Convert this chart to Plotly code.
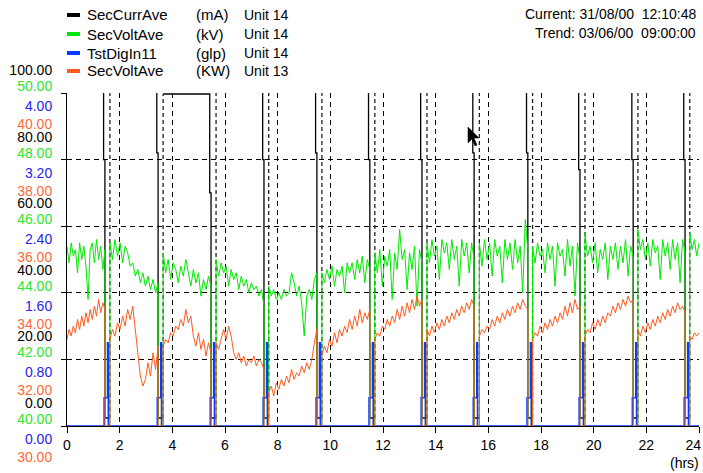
import numpy as np
import plotly.graph_objects as go

FONT = "Liberation Sans, Arial, sans-serif"

# ---------------- data ----------------
hour_ticks = [0, 2, 4, 6, 8, 10, 12, 14, 16, 18, 20, 22, 24]
hour_labels = [str(h) for h in hour_ticks]

# rapping cycles (hrs): drop time and recovery time
cycle_on = [1.44, 3.46, 5.47, 7.48, 9.49, 11.50, 13.48, 15.46, 17.50, 19.48, 21.50, 23.47]
cycle_off = [1.63, 3.65, 5.66, 7.66, 9.68, 11.69, 13.67, 15.66, 17.68, 19.67, 21.68, 23.65]

# SecCurrAve (mA), Unit 14 : level between cycles (>100 = off scale), pre-drop step, low level
curr_level = [130, 130, 99.7, 130, 130, 130, 130, 130, 130, 130, 130, 130, 130]
curr_pre = [80, 82, 70, 80, 82, 80, 80, 82, 82, 77, 80, 80]
curr_low = 2.4

# SecVoltAve (kV), Unit 14 : samples between cycles
kv_periods = [
    [45.4, 44.9, 45.5, 45.1, 45.3, 44.6, 45.5, 45.0, 45.4, 44.8, 43.8, 45.3, 45.5, 44.9, 45.6, 45.0, 45.4, 44.7, 45.3],
    [45.5, 45.0, 45.6, 45.1, 45.5, 44.9, 45.4, 45.2, 44.8, 44.9, 44.5, 44.7, 44.3, 44.6, 44.2, 44.5, 44.1, 44.4, 44.0, 44.3],
    [45.2, 44.6, 45.0, 44.4, 44.9, 44.7, 44.3, 44.8, 44.5, 45.0, 44.6, 44.2, 44.7, 44.3, 44.6, 43.9, 44.4, 44.1, 44.5, 44.2],
    [45.0, 44.5, 44.9, 44.6, 44.8, 44.2, 44.7, 44.4, 44.6, 44.1, 44.5, 44.2, 44.4, 44.0, 44.3, 44.1, 44.2, 43.9, 44.1, 43.6],
    [44.2, 43.9, 44.1, 43.8, 44.0, 43.8, 44.1, 43.9, 44.0, 44.6, 44.3, 43.9, 44.2, 43.7, 42.7, 43.9, 44.1, 43.8, 44.4, 44.6],
    [44.6, 44.3, 44.7, 44.4, 44.8, 44.2, 44.7, 44.5, 44.8, 44.0, 44.9, 44.6, 44.9, 44.4, 45.0, 44.6, 45.1, 44.3, 45.0, 44.7],
    [45.2, 44.6, 45.3, 44.2, 45.1, 44.8, 45.3, 43.8, 45.2, 44.7, 45.9, 45.0, 45.3, 44.1, 45.2, 44.7, 45.4, 43.6, 45.3, 44.9],
    [45.5, 44.9, 45.6, 45.1, 45.4, 44.4, 45.6, 45.2, 45.5, 44.7, 45.6, 45.0, 45.4, 44.2, 45.6, 45.1, 45.5, 44.6, 45.5, 45.0],
    [45.5, 44.8, 45.6, 45.0, 45.5, 44.5, 45.6, 45.1, 45.4, 44.3, 45.6, 45.0, 45.5, 44.7, 45.6, 44.9, 45.4, 44.0, 46.2, 45.3],
    [45.4, 44.9, 45.5, 45.1, 45.3, 44.6, 45.5, 45.0, 45.4, 44.2, 45.5, 45.1, 45.3, 44.5, 45.6, 44.8, 45.4, 43.9, 45.5, 45.0],
    [45.8, 45.1, 45.4, 44.9, 45.5, 44.6, 45.3, 45.0, 45.5, 44.4, 45.4, 45.0, 45.5, 44.7, 45.4, 44.9, 45.6, 44.5, 45.4, 45.1],
    [45.9, 45.3, 45.6, 45.0, 45.5, 44.8, 45.6, 45.2, 45.4, 44.4, 45.6, 45.1, 45.5, 44.7, 45.6, 45.0, 45.5, 44.3, 45.6, 45.2],
    [45.8, 45.3, 45.6, 45.1, 45.5],
]
kv_low = 40.0

# SecVoltAve (KW), Unit 13 : samples between cycles
kw_periods = [
    [32.6, 32.9, 32.7, 33.0, 32.8, 33.2, 32.9, 33.3, 33.0, 33.4, 33.1, 33.5, 33.2, 33.6, 33.3, 33.8, 33.4, 33.7, 33.5],
    [32.6, 32.9, 32.7, 33.1, 32.9, 33.3, 33.0, 33.5, 33.2, 33.6, 32.8, 32.2, 31.5, 31.2, 31.4, 31.9, 31.5, 32.2, 31.7, 32.4],
    [32.4, 32.6, 32.5, 32.8, 32.7, 33.0, 32.9, 33.2, 33.0, 33.5, 33.1, 33.3, 32.7, 32.4, 32.8, 32.3, 32.6, 32.1, 32.5, 32.2],
    [32.5, 32.3, 32.6, 32.9, 32.6, 33.0, 32.7, 32.2, 32.0, 32.2, 31.9, 32.1, 31.8, 32.0, 31.9, 32.1, 31.8, 32.0, 31.9, 31.7],
    [31.0, 31.2, 30.9, 31.3, 31.1, 31.4, 31.2, 31.5, 31.3, 31.7, 31.4, 31.6, 31.5, 31.8, 31.6, 31.9, 31.7, 32.0, 32.5, 32.9],
    [32.1, 32.4, 32.2, 32.6, 32.4, 32.8, 32.5, 32.9, 32.7, 33.0, 32.8, 33.2, 32.9, 33.3, 33.0, 33.5, 33.1, 33.4, 33.2, 33.5],
    [32.6, 32.8, 32.7, 33.0, 32.9, 33.2, 33.0, 33.3, 33.1, 33.5, 33.2, 33.6, 33.3, 33.7, 33.4, 33.8, 33.5, 33.9, 33.6, 33.8],
    [32.9, 32.7, 33.0, 32.8, 33.1, 32.9, 33.2, 33.0, 33.3, 33.1, 33.4, 33.2, 33.5, 33.3, 33.6, 33.4, 33.7, 33.5, 33.8, 33.6],
    [32.7, 32.9, 32.8, 33.0, 32.9, 33.2, 33.0, 33.3, 33.1, 33.4, 33.2, 33.5, 33.3, 33.6, 33.4, 33.7, 33.5, 33.8, 33.6, 33.5],
    [32.6, 32.8, 32.7, 33.0, 32.8, 33.1, 32.9, 33.2, 33.0, 33.3, 33.1, 33.4, 33.2, 33.6, 33.3, 33.7, 33.4, 33.8, 33.5, 33.6],
    [32.7, 32.9, 32.8, 33.1, 32.9, 33.2, 33.0, 33.3, 33.1, 33.4, 33.3, 33.6, 33.4, 33.7, 33.5, 33.8, 33.6, 33.9, 33.7, 33.8],
    [32.9, 32.7, 33.0, 32.8, 33.1, 32.9, 33.2, 33.0, 33.3, 33.1, 33.4, 33.2, 33.5, 33.3, 33.6, 33.4, 33.7, 33.5, 33.6, 33.4],
    [32.7, 32.6, 32.8, 32.7, 32.8],
]
kw_low = 30.0

# TstDigIn11 (glp), Unit 14 : pulse levels during each cycle
glp_base = 0.0
glp_step1 = 0.34
glp_step2 = 1.0
glp_t1, glp_t2, glp_t3 = -0.03, 0.10, 0.13   # relative to cycle_on

# axis tick values / labels
ma_ticks = [0, 20, 40, 60, 80, 100]
ma_labels = ["0.00", "20.00", "40.00", "60.00", "80.00", "100.00"]
kv_ticks = [40, 42, 44, 46, 48, 50]
kv_labels = ["40.00", "42.00", "44.00", "46.00", "48.00", "50.00"]
glp_ticks = [0, 0.8, 1.6, 2.4, 3.2, 4.0]
glp_labels = ["0.00", "0.80", "1.60", "2.40", "3.20", "4.00"]
kw_ticks = [30, 32, 34, 36, 38, 40]
kw_labels = ["30.00", "32.00", "34.00", "36.00", "38.00", "40.00"]

legend_rows = [
    ("SecCurrAve", "(mA)", "Unit 14"),
    ("SecVoltAve", "(kV)", "Unit 14"),
    ("TstDigIn11", "(glp)", "Unit 14"),
    ("SecVoltAve", "(KW)", "Unit 13"),
]

C_BLACK = "#000000"
C_GREEN = "#00e800"
C_BLUE = "#0a3cff"
C_ORANGE = "#ff5a1e"
T_GREEN = "#2ee62e"
T_BLUE = "#2424f0"
T_ORANGE = "#ff6a3a"
series_colors = [C_BLACK, C_GREEN, C_BLUE, C_ORANGE]


# ---------------- build series ----------------
def build_analog(periods, low):
    xs, ys = [], []
    for k, vals in enumerate(periods):
        start = 0.0 if k == 0 else cycle_off[k - 1]
        end = cycle_on[k] if k < len(cycle_on) else 24.0
        ts = np.linspace(start, end, len(vals))
        if k > 0:
            xs.append(start)
            ys.append(low)
        xs.extend(ts.tolist())
        ys.extend(vals)
        if k < len(cycle_on):
            xs.append(end)
            ys.append(low)
    return xs, ys


kv_x, kv_y = build_analog(kv_periods, kv_low)
kw_x, kw_y = build_analog(kw_periods, kw_low)

# current: solid drops + dashed recoveries
ma_x, ma_y = [], []
ma_dx, ma_dy = [], []
for k, lvl in enumerate(curr_level):
    start = 0.0 if k == 0 else cycle_off[k - 1]
    ma_x.append(start)
    ma_y.append(lvl)
    if k < len(cycle_on):
        ma_x += [cycle_on[k] - 0.05, cycle_on[k], cycle_off[k], None]
        ma_y += [curr_pre[k], curr_low, curr_low, None]
        ma_dx += [cycle_off[k], cycle_off[k], None]
        ma_dy += [curr_low, curr_level[k + 1], None]
    else:
        ma_x.append(24.0)
        ma_y.append(lvl)

glp_x, glp_y = [0.0], [glp_base]
for c in cycle_on:
    glp_x += [c + glp_t1, c + glp_t2, c + glp_t3]
    glp_y += [glp_step1, glp_step2, glp_base]
glp_x.append(24.0)
glp_y.append(glp_base)

fig = go.Figure()
fig.add_trace(go.Scatter(x=ma_x, y=ma_y, mode="lines", line=dict(color=C_BLACK, width=1.3, shape="hv"),
                         connectgaps=False, hoverinfo="skip", yaxis="y"))
fig.add_trace(go.Scatter(x=ma_dx, y=ma_dy, mode="lines", line=dict(color="#222222", width=1.3, dash="4px,3px"),
                         connectgaps=False, hoverinfo="skip", yaxis="y"))
fig.add_trace(go.Scatter(x=kv_x, y=kv_y, mode="lines", line=dict(color=C_GREEN, width=1),
                         hoverinfo="skip", yaxis="y2"))
fig.add_trace(go.Scatter(x=kw_x, y=kw_y, mode="lines", line=dict(color=C_ORANGE, width=1),
                         hoverinfo="skip", yaxis="y4"))
fig.add_trace(go.Scatter(x=glp_x, y=glp_y, mode="lines", line=dict(color=C_BLUE, width=1.6, shape="hv"),
                         hoverinfo="skip", yaxis="y3"))

# ---------------- layout ----------------
L, R, T, B = 67, 699, 93, 426
W, H = R - L, B - T


def px(xp):
    return (xp - L) / W


def py(yp):
    return (B - yp) / H


GRID_DASH = "5px,4px"
STANDOFF = 6
common_y = dict(side="left", anchor="x", tickmode="array", ticks="outside", ticklen=5,
                tickcolor="rgba(0,0,0,0)", showline=False, showgrid=False, zeroline=False,
                ticklabelstandoff=STANDOFF, fixedrange=True, automargin=False)

x_ticktext = hour_labels[:-1] + [hour_labels[-1] + "\u00a0\u00a0\u00a0"]

fig.update_layout(
    width=703, height=473,
    margin=dict(l=L, r=703 - R, t=T, b=473 - B, pad=0, autoexpand=False),
    paper_bgcolor="white", plot_bgcolor="white",
    showlegend=False,
    font=dict(family=FONT, size=14, color="black"),
    xaxis=dict(range=[0, 24], tickmode="array", tickvals=hour_ticks, ticktext=x_ticktext,
               ticks="outside", ticklen=6, tickcolor="black", showline=True, linecolor="black",
               linewidth=1, showgrid=True, gridcolor="black", gridwidth=1, griddash=GRID_DASH,
               zeroline=False, layer="below traces", tickfont=dict(size=14, color="black"),
               ticklabeloverflow="allow", fixedrange=True, automargin=False),
    yaxis=dict(range=[0, 100], tickmode="array", tickvals=ma_ticks, ticktext=ma_labels,
               ticks="outside", ticklen=5, tickcolor="black", showline=True, linecolor="black",
               linewidth=1, showgrid=True, gridcolor="black", gridwidth=1, griddash=GRID_DASH,
               zeroline=False, layer="below traces", ticklabelshift=-23, ticklabelstandoff=STANDOFF,
               ticklabeloverflow="allow",
               tickfont=dict(size=14, color="black"), fixedrange=True, automargin=False),
    yaxis2=dict(common_y, overlaying="y", range=[40, 50], tickvals=kv_ticks, ticktext=kv_labels,
                ticklabelshift=-7, ticklabeloverflow="allow", tickfont=dict(size=14, color=T_GREEN)),
    yaxis3=dict(common_y, overlaying="y", range=[0, 4], tickvals=glp_ticks, ticktext=glp_labels,
                ticklabelshift=13, ticklabeloverflow="allow", tickfont=dict(size=14, color=T_BLUE)),
    yaxis4=dict(common_y, overlaying="y", range=[30, 40], tickvals=kw_ticks, ticktext=kw_labels,
                ticklabelshift=31, ticklabeloverflow="allow", tickfont=dict(size=14, color=T_ORANGE)),
)

annotations = []
shapes = []
row_y = [15, 34, 53, 71]
for (name, unit, src), color, yy in zip(legend_rows, series_colors, row_y):
    shapes.append(dict(type="rect", xref="paper", yref="paper", x0=px(67), x1=px(80),
                       y0=py(yy + 2), y1=py(yy - 2), fillcolor=color, line=dict(width=0)))
    for txt, xx, fs in ((name, 85, 15), (unit, 194, 15), (src, 242, 14)):
        annotations.append(dict(text=txt, xref="paper", yref="paper", x=px(xx), y=py(yy),
                                xanchor="left", yanchor="middle", showarrow=False,
                                font=dict(size=fs, color="black", family=FONT)))

annotations.append(dict(text="Current: 31/08/00\u00a0 12:10:48", xref="paper", yref="paper",
                        x=px(698), y=py(14), xanchor="right", yanchor="middle", showarrow=False,
                        font=dict(size=14, color="black", family=FONT)))
annotations.append(dict(text="Trend: 03/06/00\u00a0 09:00:00", xref="paper", yref="paper",
                        x=px(698), y=py(33), xanchor="right", yanchor="middle", showarrow=False,
                        font=dict(size=14, color="black", family=FONT)))
annotations.append(dict(text="(hrs)", xref="paper", yref="paper", x=px(684), y=py(463),
                        xanchor="center", yanchor="middle", showarrow=False,
                        font=dict(size=14, color="black", family=FONT)))

# mouse pointer seen in the screenshot
cur = [(468, 127), (468, 143), (472, 139), (475, 146), (477, 145), (474, 138), (479, 138)]
path = "M " + " L ".join(f"{px(a):.5f},{py(b):.5f}" for a, b in cur) + " Z"
shapes.append(dict(type="path", xref="paper", yref="paper", path=path,
                   fillcolor="black", line=dict(color="black", width=0.5)))

fig.update_layout(annotations=annotations, shapes=shapes)
fig.write_html("out.html", config={"displayModeBar": False},
               post_script="document.body.style.margin='0px';document.body.style.overflow='hidden';")
